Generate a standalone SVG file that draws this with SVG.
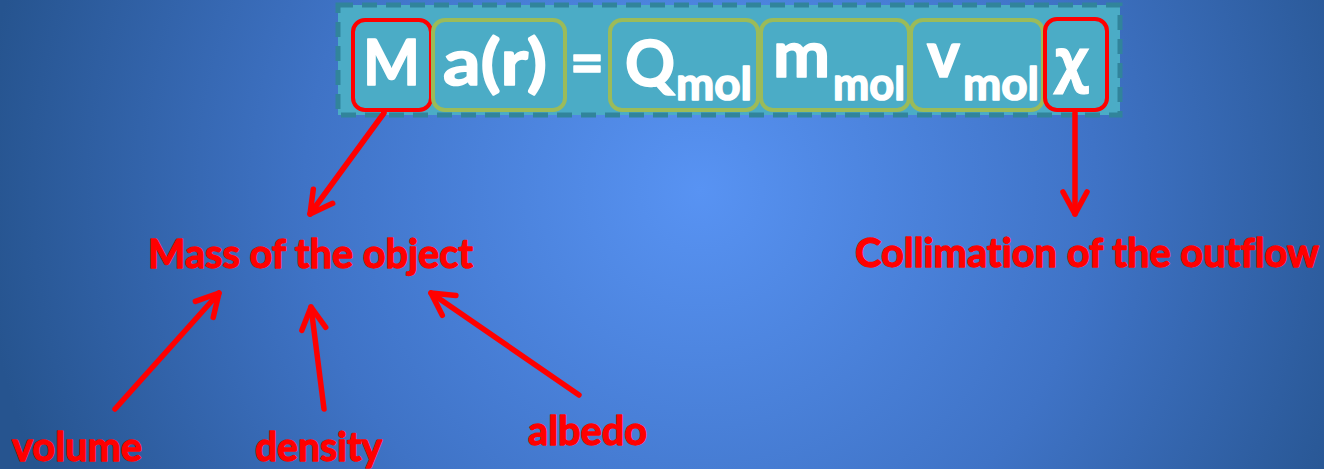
<svg xmlns="http://www.w3.org/2000/svg" width="1324" height="469" viewBox="0 0 1324 469">
  <defs>
    <radialGradient id="bg" gradientUnits="userSpaceOnUse" cx="700" cy="190" r="720">
      <stop offset="0" stop-color="#5893F3"/>
      <stop offset="0.55" stop-color="#3F73C6"/>
      <stop offset="1" stop-color="#26548F"/>
    </radialGradient>
    <marker id="chev" markerUnits="userSpaceOnUse" markerWidth="40" markerHeight="40" viewBox="-30 -20 40 40" refX="0" refY="0" orient="auto">
      <path d="M-22,-12 L0,0 L-22,12" fill="none" stroke="#FF0000" stroke-width="5.5" stroke-linecap="round" stroke-linejoin="round"/>
    </marker>
    <style>
      .eqbox { fill: #4BACC6; stroke: #31849B; stroke-width: 5; stroke-dasharray: 15 9; }
      .gbox { fill: #4BACC6; stroke: #9BBB59; stroke-width: 4; }
      .rbox { fill: #4BACC6; stroke: #FF0000; stroke-width: 4; }
      .eq { font-family: Lato, "Open Sans", sans-serif; font-weight: bold; fill: #FFFFFF; stroke: #FFFFFF; stroke-width: 1.6; stroke-linejoin: round; }
      .big { font-size: 64px; }
      .sub { font-size: 46px; }
      .lbl { font-family: Lato, "Open Sans", sans-serif; font-weight: bold; fill: #FF0000; stroke: #FF0000; stroke-width: 1.3; stroke-linejoin: round; font-size: 40px; font-variant-ligatures: none; }
      .arr { fill: none; stroke: #FF0000; stroke-width: 5.5; stroke-linecap: round; marker-end: url(#chev); }
    </style>
  </defs>
  <rect width="1324" height="469" fill="url(#bg)"/>

  <g id="equation">
    <rect class="eqbox" x="338" y="5" width="782" height="110"/>
    <g id="node-M">
      <rect class="rbox" x="353" y="20" width="78" height="90" rx="12"/>
      <text class="eq big" x="363" y="85" textLength="57" lengthAdjust="spacingAndGlyphs">M</text>
    </g>
    <g id="node-a">
      <rect class="gbox" x="433" y="20" width="132" height="90" rx="12"/>
      <text class="eq big" x="443" y="85" textLength="104" lengthAdjust="spacingAndGlyphs">a(r)</text>
    </g>
    <g id="node-eq">
      <text class="eq big" x="570" y="85" textLength="34" lengthAdjust="spacingAndGlyphs">=</text>
    </g>
    <g id="node-Q">
      <rect class="gbox" x="610" y="20" width="148" height="90" rx="12"/>
      <text class="eq big" x="625" y="86" textLength="50" lengthAdjust="spacingAndGlyphs">Q</text>
      <text class="eq sub" x="676" y="100" textLength="76" lengthAdjust="spacingAndGlyphs">mol</text>
    </g>
    <g id="node-m">
      <rect class="gbox" x="761" y="20" width="148" height="90" rx="12"/>
      <text class="eq big" x="773" y="77" textLength="57" lengthAdjust="spacingAndGlyphs">m</text>
      <text class="eq sub" x="833" y="100" textLength="72" lengthAdjust="spacingAndGlyphs">mol</text>
    </g>
    <g id="node-v">
      <rect class="gbox" x="911" y="20" width="132" height="90" rx="12"/>
      <text class="eq big" x="927" y="77" textLength="33" lengthAdjust="spacingAndGlyphs">v</text>
      <text class="eq sub" x="963" y="100" textLength="76" lengthAdjust="spacingAndGlyphs">mol</text>
    </g>
    <g id="node-chi">
      <rect class="rbox" x="1045" y="19" width="62" height="91" rx="12"/>
      <text x="1055" y="80" font-family="'Open Sans', 'DejaVu Sans', sans-serif" font-weight="bold" font-size="58" fill="#FFFFFF" stroke="#FFFFFF" stroke-width="1.2" textLength="33" lengthAdjust="spacingAndGlyphs">χ</text>
    </g>
  </g>

  <g id="connectors">
    <line class="arr" x1="384" y1="113" x2="310" y2="214"/>
    <line class="arr" x1="1075" y1="113" x2="1075" y2="214"/>
    <line class="arr" x1="115" y1="409" x2="219" y2="293"/>
    <line class="arr" x1="324" y1="409" x2="311" y2="307"/>
    <line class="arr" x1="579" y1="395" x2="431" y2="293"/>
  </g>

  <g id="node-mass">
    <text class="lbl" x="148" y="268" textLength="325" lengthAdjust="spacingAndGlyphs">Mass of the object</text>
  </g>
  <g id="node-collimation">
    <text class="lbl" x="855" y="267" textLength="464" lengthAdjust="spacingAndGlyphs">Collimation of the outflow</text>
  </g>
  <g id="node-volume">
    <text class="lbl" x="12" y="461" textLength="130" lengthAdjust="spacingAndGlyphs">volume</text>
  </g>
  <g id="node-density">
    <text class="lbl" x="255" y="461" textLength="127" lengthAdjust="spacingAndGlyphs">density</text>
  </g>
  <g id="node-albedo">
    <text class="lbl" x="528" y="445" textLength="119" lengthAdjust="spacingAndGlyphs">albedo</text>
  </g>
</svg>
